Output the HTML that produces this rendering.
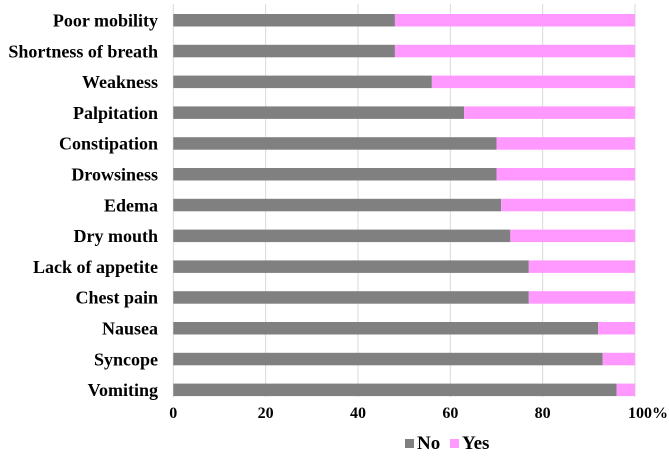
<!DOCTYPE html>
<html><head><meta charset="utf-8"><style>
body{margin:0;background:#fff;width:669px;height:452px;overflow:hidden}
text{font-family:"Liberation Serif",serif;font-weight:bold}
</style></head><body>
<svg id="chart" width="669" height="452" xmlns="http://www.w3.org/2000/svg"></svg>
<script>
const categories=["Poor mobility","Shortness of breath","Weakness","Palpitation","Constipation","Drowsiness","Edema","Dry mouth","Lack of appetite","Chest pain","Nausea","Syncope","Vomiting"];
const noValues=[48,48,56,63,70,70,71,73,77,77,92,93,96];
const yesValues=[52,52,44,37,30,30,29,27,23,23,8,7,4];
const ticks=[0,20,40,60,80,100];
const tickLabels=["0","20","40","60","80","100%"];
const NS="http://www.w3.org/2000/svg";
const svg=document.getElementById('chart');
const x0=173.3,x1=635;
const xs=v=>x0+(x1-x0)*v/100;
const yc=i=>20+i*30.8;
function mk(t,a){const e=document.createElementNS(NS,t);for(const k in a)e.setAttribute(k,a[k]);svg.appendChild(e);return e;}
ticks.forEach((t,i)=>{
 const g=mk('line',{x1:xs(t),x2:xs(t),y1:4,y2:397,stroke:'#d9d9d9','stroke-width':1});
 
 
 const last=i==ticks.length-1;
 const l=mk('text',{x:last?xs(t)-7:xs(t),y:418,'font-size':16,'text-anchor':last?'start':'middle',fill:'#000'});
 l.textContent=tickLabels[i];
 
 
});
categories.forEach((c,i)=>{
 const y=yc(i)-6;
 const total=noValues[i]+yesValues[i];
 const nw=noValues[i]/total*100;
 const r1=mk('rect',{x:xs(0),y:y,width:xs(nw)-xs(0),height:12.5,fill:'#808080'});
 
 
 const r2=mk('rect',{x:xs(nw),y:y,width:xs(100)-xs(nw),height:12.5,fill:'#ff99ff'});
 
 
 const t=mk('text',{x:158,y:yc(i)+6.5,'font-size':18,'text-anchor':'end',fill:'#000'});
 t.textContent=c;
 
 
});
const s1=mk('rect',{x:405,y:439,width:9,height:9,fill:'#808080'});


const t1=mk('text',{x:417,y:449,'font-size':19,fill:'#000'});t1.textContent='No';


const s2=mk('rect',{x:450,y:439,width:9,height:9,fill:'#ff99ff'});


const t2=mk('text',{x:462,y:449,'font-size':19,fill:'#000'});t2.textContent='Yes';


</script>
</body></html>
